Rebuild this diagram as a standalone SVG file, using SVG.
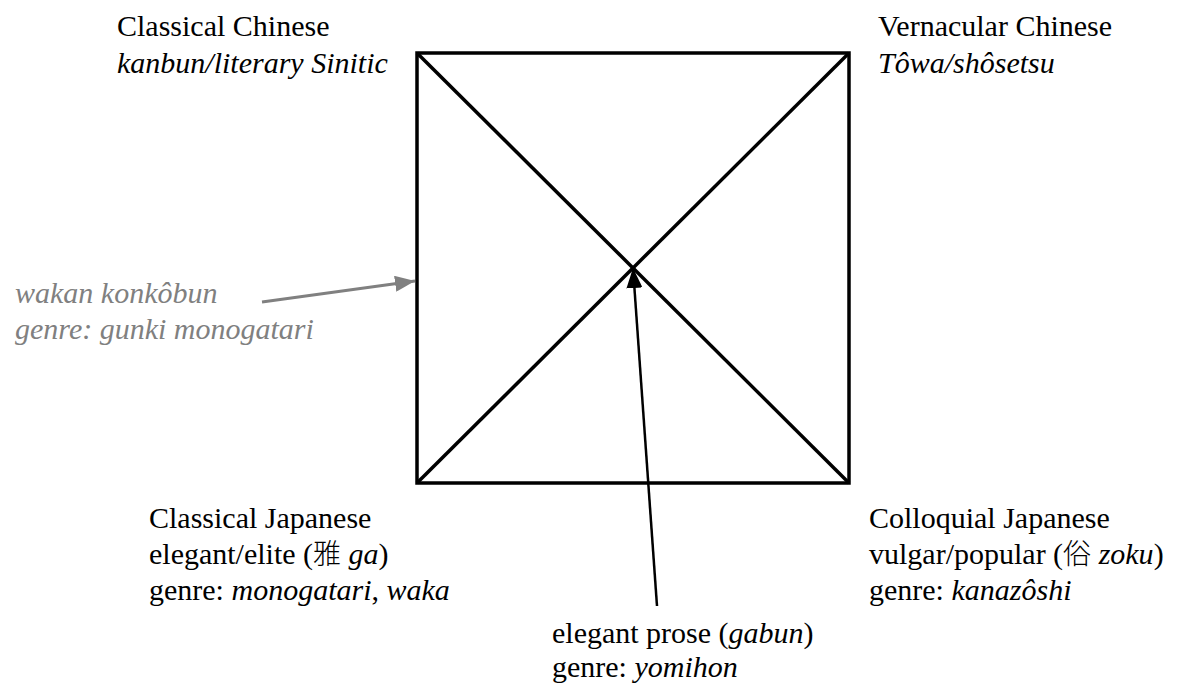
<svg xmlns="http://www.w3.org/2000/svg" width="1191" height="686" viewBox="0 0 1191 686">
<style>
text{font-family:"Liberation Serif","Noto Sans CJK JP",serif;font-size:30px;fill:#000}
.i{font-style:italic}
.g{fill:#808080}
.cjk{font-family:"Noto Sans CJK JP","Liberation Serif",sans-serif;font-size:28px;font-weight:300}
.sq{stroke:#000;stroke-width:3.5;fill:none}
</style>
<defs>
<marker id="ab" viewBox="0 0 20 16" refX="20" refY="8" markerWidth="20" markerHeight="16" markerUnits="userSpaceOnUse" orient="auto"><path d="M0,0 L20,8 L0,16 Z" fill="#000"/></marker>
<marker id="ag" viewBox="0 0 20 16" refX="20" refY="8" markerWidth="20" markerHeight="16" markerUnits="userSpaceOnUse" orient="auto"><path d="M0,0 L20,8 L0,16 Z" fill="#808080"/></marker>
</defs>
<rect width="1191" height="686" fill="#fff"/>
<g id="square">
<rect class="sq" x="417" y="53" width="432" height="430"/>
<line class="sq" x1="417" y1="53" x2="849" y2="483"/>
<line class="sq" x1="849" y1="53" x2="417" y2="483"/>
</g>
<g id="classical-chinese">
<text x="117" y="36">Classical Chinese</text>
<text x="117" y="73" class="i">kanbun/literary Sinitic</text>
</g>
<g id="vernacular-chinese">
<text x="878" y="36">Vernacular Chinese</text>
<text x="878" y="73" class="i">Tôwa/shôsetsu</text>
</g>
<g id="wakan">
<text x="15" y="303" class="i g">wakan konkôbun</text>
<text x="15" y="339" class="i g">genre: gunki monogatari</text>
</g>
<g id="classical-japanese">
<text x="149" y="528">Classical Japanese</text>
<text x="149" y="564">elegant/elite (<tspan class="cjk">雅</tspan> <tspan class="i">ga</tspan>)</text>
<text x="149" y="600">genre: <tspan class="i">monogatari</tspan>, <tspan class="i">waka</tspan></text>
</g>
<g id="colloquial-japanese">
<text x="869" y="528">Colloquial Japanese</text>
<text x="869" y="564">vulgar/popular (<tspan class="cjk">俗</tspan> <tspan class="i">zoku</tspan>)</text>
<text x="869" y="600">genre: <tspan class="i">kanazôshi</tspan></text>
</g>
<g id="elegant-prose">
<text x="552" y="643">elegant prose (<tspan class="i">gabun</tspan>)</text>
<text x="552" y="677">genre: <tspan class="i">yomihon</tspan></text>
</g>
<g id="connectors">
<line x1="657" y1="606" x2="633" y2="268" stroke="#000" stroke-width="2.5" marker-end="url(#ab)"/>
<line x1="262" y1="302" x2="415" y2="281" stroke="#808080" stroke-width="3" marker-end="url(#ag)"/>
</g>
</svg>
